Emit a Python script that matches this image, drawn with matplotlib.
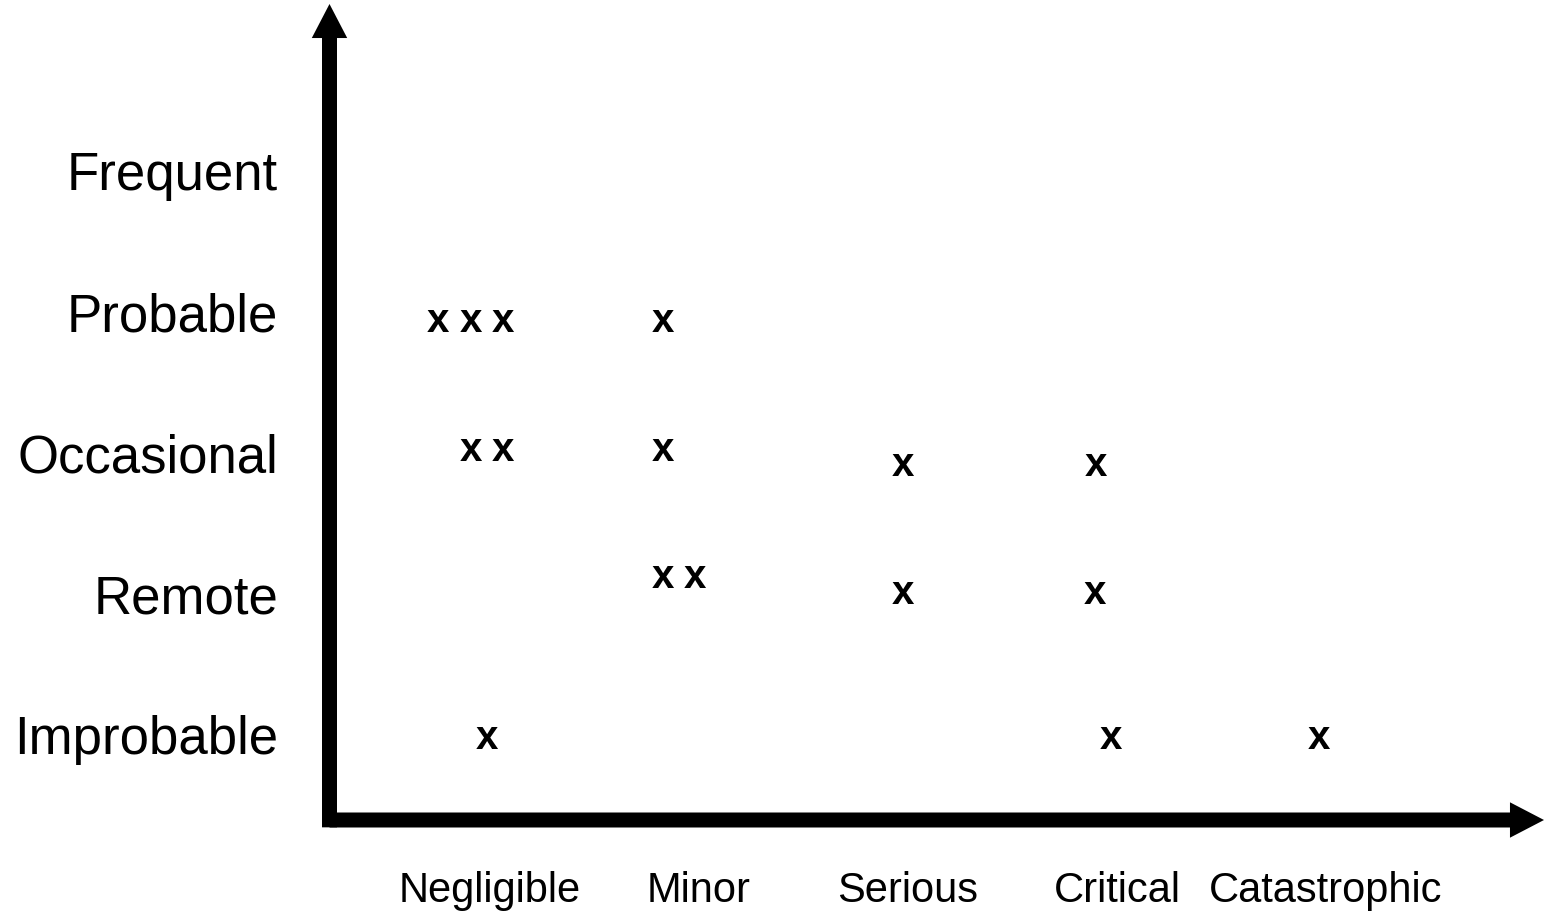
import matplotlib
matplotlib.use("Agg")
import matplotlib.pyplot as plt

plt.rcParams['font.family'] = ['Liberation Sans', 'DejaVu Sans']

# Kategorier på aksene
severity = ["Negligible", "Minor", "Serious", "Critical", "Catastrophic"]
likelihood = ["Improbable", "Remote", "Occasional", "Probable", "Frequent"]

# Posisjon til hvert kryss (alvorlighet, sannsynlighet), lest av figuren
mark_severity = [0.751, 0.909, 1.062, 1.828,
                 0.909, 1.062, 1.828, 2.976, 3.900,
                 1.828, 1.981, 2.976, 3.895,
                 0.986, 3.971, 4.967]
mark_likelihood = [3.936, 3.936, 3.936, 3.936,
                   3.021, 3.021, 3.021, 2.915, 2.915,
                   2.121, 2.121, 2.007, 2.007,
                   0.979, 0.979, 0.979]

W, H = 1548, 913
fig = plt.figure(figsize=(W / 100, H / 100), dpi=100)
ax = fig.add_axes([329.5 / W, 93 / H, (1544 - 329.5) / W, (820 - 4) / H])
ax.set_xlim(0.232, 6.043)
ax.set_ylim(0.397, 6.184)

for s in ax.spines.values():
    s.set_visible(False)

# Akser som tykke piler
arrow = dict(width=10.8, headwidth=25.5, headlength=24.5, facecolor='black',
             edgecolor='none', shrink=0)
ax.annotate('', xy=(0, 1), xytext=(0, -0.009), xycoords='axes fraction',
            arrowprops=arrow, annotation_clip=False)
ax.annotate('', xy=(1, 0), xytext=(0, 0), xycoords='axes fraction',
            arrowprops=arrow, annotation_clip=False)

ax.set_xticks(range(1, len(severity) + 1))
ax.set_xticklabels(severity, fontsize=30)
ax.set_yticks(range(1, len(likelihood) + 1))
ax.set_yticklabels(likelihood, fontsize=38)
ax.tick_params(axis='x', length=0, pad=36.5)
ax.tick_params(axis='y', length=0, pad=37)

for sx, ly in zip(mark_severity, mark_likelihood):
    ax.text(sx, ly, 'x', ha='center', va='center', fontsize=29, fontweight='bold')

fig.savefig('out.png', dpi=100, facecolor='white')
